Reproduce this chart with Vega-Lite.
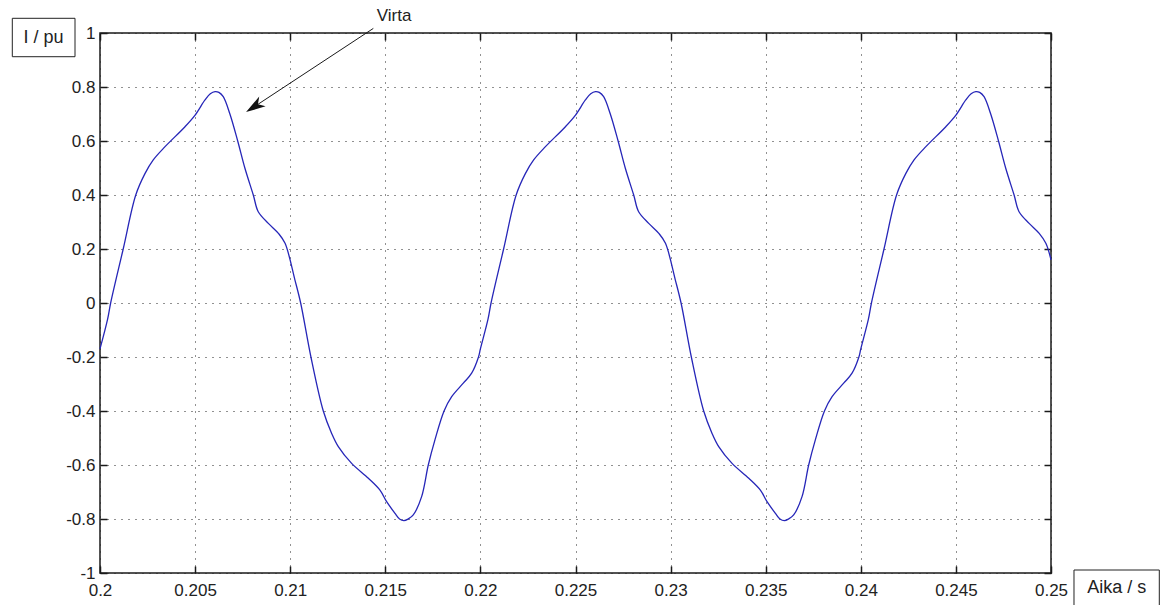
{
  "$schema": "https://vega.github.io/schema/vega-lite/v6.json",
  "width": 951,
  "height": 540,
  "autosize": {"type": "none"},
  "padding": {"left": 100, "top": 33, "right": 116, "bottom": 32},
  "background": "white",
  "config": {
    "font": "Liberation Sans",
    "view": {"stroke": "#1a1a1a", "strokeWidth": 1.5},
    "axis": {
      "title": null,
      "domain": false,
      "labelFlush": false,
      "tickColor": "#1a1a1a",
      "tickWidth": 1.5,
      "tickSize": -7,
      "labelFont": "Liberation Sans",
      "labelFontSize": 17,
      "labelColor": "#222222",
      "gridColor": "#222222",
      "gridWidth": 1,
      "gridDash": [1, 6],
      "gridOpacity": 1
    }
  },
  "datasets": {
    "current": [
      {"t": 0.2000, "v": -0.17}, {"t": 0.2004, "v": -0.06}, {"t": 0.20056, "v": 0.0}, {"t": 0.20122, "v": 0.2},
      {"t": 0.20188, "v": 0.4}, {"t": 0.20237, "v": 0.48}, {"t": 0.2028, "v": 0.53},
      {"t": 0.20342, "v": 0.579}, {"t": 0.20447, "v": 0.653}, {"t": 0.205, "v": 0.696},
      {"t": 0.20552, "v": 0.752}, {"t": 0.2058, "v": 0.775}, {"t": 0.20605, "v": 0.783}, {"t": 0.20625, "v": 0.78},
      {"t": 0.20648, "v": 0.764}, {"t": 0.20683, "v": 0.70}, {"t": 0.20724, "v": 0.6}, {"t": 0.20762, "v": 0.499},
      {"t": 0.20806, "v": 0.4}, {"t": 0.20832, "v": 0.338}, {"t": 0.20885, "v": 0.295}, {"t": 0.20938, "v": 0.258},
      {"t": 0.20973, "v": 0.221}, {"t": 0.21025, "v": 0.085}, {"t": 0.21055, "v": 0.0},
      {"t": 0.21109, "v": -0.2}, {"t": 0.21174, "v": -0.4}, {"t": 0.21218, "v": -0.483},
      {"t": 0.21253, "v": -0.532}, {"t": 0.21323, "v": -0.594}, {"t": 0.21411, "v": -0.649}, {"t": 0.21472, "v": -0.693},
      {"t": 0.21507, "v": -0.736}, {"t": 0.21551, "v": -0.779}, {"t": 0.21575, "v": -0.8}, {"t": 0.21598, "v": -0.806},
      {"t": 0.2162, "v": -0.8}, {"t": 0.21647, "v": -0.785}, {"t": 0.21691, "v": -0.717}, {"t": 0.21726, "v": -0.6},
      {"t": 0.21761, "v": -0.507}, {"t": 0.21809, "v": -0.4}, {"t": 0.21849, "v": -0.347}, {"t": 0.2191, "v": -0.297},
      {"t": 0.21954, "v": -0.26}, {"t": 0.2199, "v": -0.2},

      {"t": 0.2200, "v": -0.17}, {"t": 0.2204, "v": -0.06}, {"t": 0.22056, "v": 0.0}, {"t": 0.22122, "v": 0.2},
      {"t": 0.22188, "v": 0.4}, {"t": 0.22237, "v": 0.48}, {"t": 0.2228, "v": 0.53},
      {"t": 0.22342, "v": 0.579}, {"t": 0.22447, "v": 0.653}, {"t": 0.225, "v": 0.696},
      {"t": 0.22552, "v": 0.752}, {"t": 0.2258, "v": 0.775}, {"t": 0.22605, "v": 0.783}, {"t": 0.22625, "v": 0.78},
      {"t": 0.22648, "v": 0.764}, {"t": 0.22683, "v": 0.70}, {"t": 0.22724, "v": 0.6}, {"t": 0.22762, "v": 0.499},
      {"t": 0.22806, "v": 0.4}, {"t": 0.22832, "v": 0.338}, {"t": 0.22885, "v": 0.295}, {"t": 0.22938, "v": 0.258},
      {"t": 0.22973, "v": 0.221}, {"t": 0.23025, "v": 0.085}, {"t": 0.23055, "v": 0.0},
      {"t": 0.23109, "v": -0.2}, {"t": 0.23174, "v": -0.4}, {"t": 0.23218, "v": -0.483},
      {"t": 0.23253, "v": -0.532}, {"t": 0.23323, "v": -0.594}, {"t": 0.23411, "v": -0.649}, {"t": 0.23472, "v": -0.693},
      {"t": 0.23507, "v": -0.736}, {"t": 0.23551, "v": -0.779}, {"t": 0.23575, "v": -0.8}, {"t": 0.23598, "v": -0.806},
      {"t": 0.2362, "v": -0.8}, {"t": 0.23647, "v": -0.785}, {"t": 0.23691, "v": -0.717}, {"t": 0.23726, "v": -0.6},
      {"t": 0.23761, "v": -0.507}, {"t": 0.23809, "v": -0.4}, {"t": 0.23849, "v": -0.347}, {"t": 0.2391, "v": -0.297},
      {"t": 0.23954, "v": -0.26}, {"t": 0.2399, "v": -0.2},

      {"t": 0.2400, "v": -0.17}, {"t": 0.2404, "v": -0.06}, {"t": 0.24056, "v": 0.0}, {"t": 0.24122, "v": 0.2},
      {"t": 0.24188, "v": 0.4}, {"t": 0.24237, "v": 0.48}, {"t": 0.2428, "v": 0.53},
      {"t": 0.24342, "v": 0.579}, {"t": 0.24447, "v": 0.653}, {"t": 0.245, "v": 0.696},
      {"t": 0.24552, "v": 0.752}, {"t": 0.2458, "v": 0.775}, {"t": 0.24605, "v": 0.783}, {"t": 0.24625, "v": 0.78},
      {"t": 0.24648, "v": 0.764}, {"t": 0.24683, "v": 0.70}, {"t": 0.24724, "v": 0.6}, {"t": 0.24762, "v": 0.499},
      {"t": 0.24806, "v": 0.4}, {"t": 0.24832, "v": 0.338}, {"t": 0.24885, "v": 0.295}, {"t": 0.24938, "v": 0.258},
      {"t": 0.24973, "v": 0.221}, {"t": 0.25, "v": 0.16}
    ],
    "arrow": [
      {"t0": 0.21437, "v0": 1.017, "t1": 0.20811, "v1": 0.7269}
    ],
    "callout": [
      {"t": 0.21546, "v": 1.063, "text": "Virta"}
    ],
    "boxes": [
      {"t0": 0.195389, "t1": 0.198686, "v0": 1.0544, "v1": 0.9122, "t": 0.197035, "v": 0.9833, "text": "I / pu"},
      {"t0": 0.251209, "t1": 0.255694, "v0": -0.9889, "v1": -1.1222, "t": 0.253454, "v": -1.0556, "text": "Aika / s"}
    ]
  },
  "layer": [
    {
      "data": {"name": "current"},
      "mark": {"type": "line", "color": "#2626b8", "strokeWidth": 1.3, "interpolate": "catmull-rom"},
      "encoding": {
        "x": {
          "field": "t", "type": "quantitative",
          "scale": {"domain": [0.2, 0.25], "nice": false, "zero": false},
          "axis": {
            "orient": "bottom", "grid": true, "labelPadding": 16,
            "values": [0.2, 0.205, 0.21, 0.215, 0.22, 0.225, 0.23, 0.235, 0.24, 0.245, 0.25],
            "labelExpr": "toString(round(datum.value * 1000) / 1000)"
          }
        },
        "y": {
          "field": "v", "type": "quantitative",
          "scale": {"domain": [-1, 1], "nice": false, "zero": false},
          "axis": {
            "orient": "left", "grid": true, "labelPadding": 12,
            "values": [-1, -0.8, -0.6, -0.4, -0.2, 0, 0.2, 0.4, 0.6, 0.8, 1],
            "labelExpr": "toString(round(datum.value * 10) / 10)"
          }
        }
      }
    },
    {
      "data": {"name": "current"},
      "mark": {"type": "line", "opacity": 0},
      "encoding": {
        "x": {
          "field": "t", "type": "quantitative",
          "scale": {"domain": [0.2, 0.25], "nice": false, "zero": false},
          "axis": {
            "orient": "top", "grid": false, "labels": false,
            "values": [0.2, 0.205, 0.21, 0.215, 0.22, 0.225, 0.23, 0.235, 0.24, 0.245, 0.25]
          }
        },
        "y": {
          "field": "v", "type": "quantitative",
          "scale": {"domain": [-1, 1], "nice": false, "zero": false},
          "axis": {
            "orient": "right", "grid": false, "labels": false,
            "values": [-1, -0.8, -0.6, -0.4, -0.2, 0, 0.2, 0.4, 0.6, 0.8, 1]
          }
        }
      }
    },
    {
      "data": {"name": "arrow"},
      "mark": {"type": "rule", "color": "#1a1a1a", "strokeWidth": 1},
      "encoding": {
        "x": {"field": "t0", "type": "quantitative", "scale": {"domain": [0.2, 0.25], "nice": false, "zero": false}, "axis": null},
        "y": {"field": "v0", "type": "quantitative", "scale": {"domain": [-1, 1], "nice": false, "zero": false}, "axis": null},
        "x2": {"field": "t1"},
        "y2": {"field": "v1"}
      }
    },
    {
      "data": {"name": "arrow"},
      "mark": {
        "type": "point", "filled": true, "color": "#111111", "opacity": 1,
        "shape": "M0,-1 L0.6,1 L0,0.45 L-0.6,1 Z",
        "size": 380, "angle": 237
      },
      "encoding": {
        "x": {"field": "t1", "type": "quantitative", "scale": {"domain": [0.2, 0.25], "nice": false, "zero": false}, "axis": null},
        "y": {"field": "v1", "type": "quantitative", "scale": {"domain": [-1, 1], "nice": false, "zero": false}, "axis": null}
      }
    },
    {
      "data": {"name": "callout"},
      "mark": {"type": "text", "font": "Liberation Sans", "fontSize": 17, "color": "#222222", "align": "center", "baseline": "middle"},
      "encoding": {
        "x": {"field": "t", "type": "quantitative", "scale": {"domain": [0.2, 0.25], "nice": false, "zero": false}, "axis": null},
        "y": {"field": "v", "type": "quantitative", "scale": {"domain": [-1, 1], "nice": false, "zero": false}, "axis": null},
        "text": {"field": "text"}
      }
    },
    {
      "data": {"name": "boxes"},
      "mark": {"type": "rect", "fill": "white", "stroke": "#222222", "strokeWidth": 1},
      "encoding": {
        "x": {"field": "t0", "type": "quantitative", "scale": {"domain": [0.2, 0.25], "nice": false, "zero": false}, "axis": null},
        "x2": {"field": "t1"},
        "y": {"field": "v0", "type": "quantitative", "scale": {"domain": [-1, 1], "nice": false, "zero": false}, "axis": null},
        "y2": {"field": "v1"}
      }
    },
    {
      "data": {"name": "boxes"},
      "mark": {"type": "text", "font": "Liberation Sans", "fontSize": 18, "color": "#222222", "align": "center", "baseline": "middle"},
      "encoding": {
        "x": {"field": "t", "type": "quantitative", "scale": {"domain": [0.2, 0.25], "nice": false, "zero": false}, "axis": null},
        "y": {"field": "v", "type": "quantitative", "scale": {"domain": [-1, 1], "nice": false, "zero": false}, "axis": null},
        "text": {"field": "text"}
      }
    }
  ],
  "resolve": {"axis": {"x": "independent", "y": "independent"}}
}
